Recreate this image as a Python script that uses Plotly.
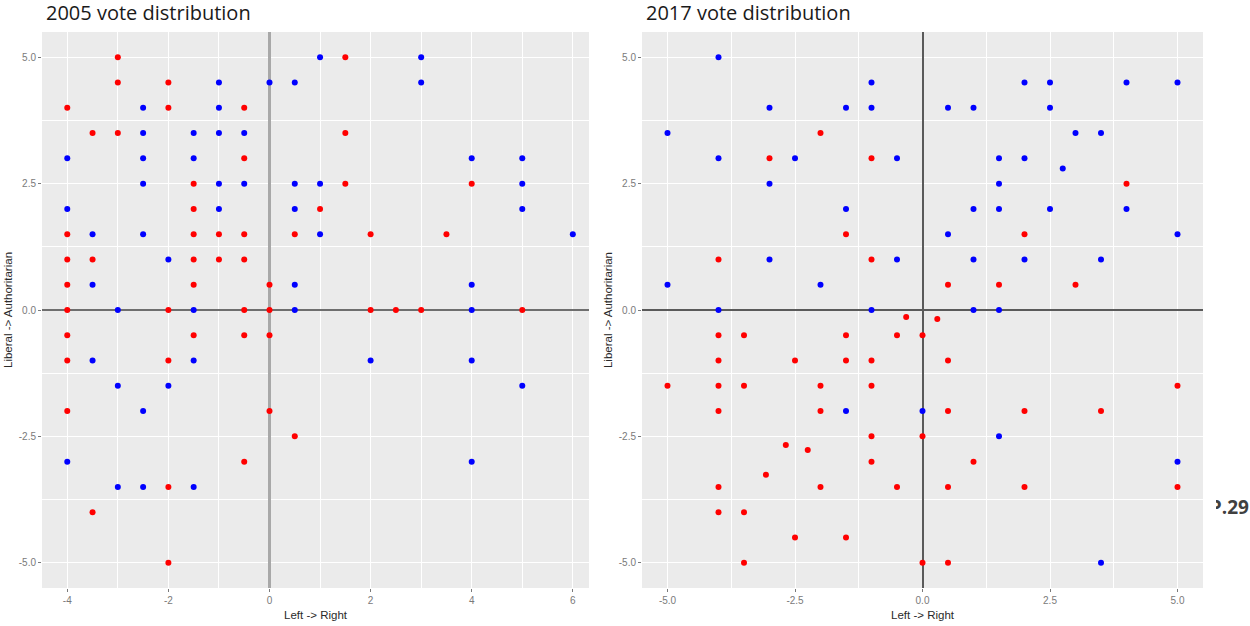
import plotly.graph_objects as go

# ---- 2005 positions (left/right, liberal/authoritarian) ----
red_2005_x = [-4, -3, -3, -2, -2, -0.5, -3.5, -3, -0.5, -1.5, -1.5, -4, -1.5, -1, -0.5, 0.5,
              -4, -3.5, -1.5, -1, -0.5, -4, -1.5, 0, 1, -4, -2, -0.5, 0, 1.5, 1.5, 1.5, 4, 2,
              3.5, 2, 2.5, 3, 5, -4, -1.5, -0.5, 0, -4, -2, -4, 0, 0.5, -0.5, -2, -3.5, -2]
red_2005_y = [4, 5, 4.5, 4.5, 4, 4, 3.5, 3.5, 3, 2.5, 2, 1.5, 1.5, 1.5, 1.5, 1.5,
              1, 1, 1, 1, 1, 0.5, 0.5, 0.5, 2, 0, 0, 0, 0, 5, 3.5, 2.5, 2.5, 1.5,
              1.5, 0, 0, 0, 0, -0.5, -0.5, -0.5, -0.5, -1, -1, -2, -2, -2.5, -3, -3.5, -4, -5]

blue_2005_x = [1, -1, 0, 0.5, -2.5, -1, -2.5, -1.5, -1, -0.5, -4, -2.5, -1.5, -2.5, -1, -0.5,
               0.5, 1, -4, -1, 0.5, -3.5, -2.5, 1, -2, -3.5, 0.5, -3, -1.5, 0.5, 3, 3, 4, 5,
               5, 5, 6, 4, 4, -3.5, -1.5, -3, -2, -2.5, -4, -3, -2.5, -1.5, 2, 4, 5, 4]
blue_2005_y = [5, 4.5, 4.5, 4.5, 4, 4, 3.5, 3.5, 3.5, 3.5, 3, 3, 3, 2.5, 2.5, 2.5,
               2.5, 2.5, 2, 2, 2, 1.5, 1.5, 1.5, 1, 0.5, 0.5, 0, 0, 0, 5, 4.5, 3, 3,
               2.5, 2, 1.5, 0.5, 0, -1, -1, -1.5, -1.5, -2, -3, -3.5, -3.5, -3.5, -1, -1, -1.5, -3]

# ---- 2017 positions ----
red_2017_x = [-4, -3, -2, -1.5, -1, -1, -0.32, 4, 2, 0.5, 1.5, 3, -4, -3.5, -1.5, -0.5, 0,
              -4, -2.5, -1.5, -1, -5, -4, -3.5, -2, -1, -4, -2, -1, 0, -2.68, -2.25, -3.07,
              -1, -4, -2, -0.5, -4, -3.5, -2.5, -1.5, -3.5, 0, 0.29, 0.5, 5, 0.5, 2, 3.5,
              1, 0.5, 2, 5, 0.5]
red_2017_y = [1, 3, 3.5, 1.5, 3, 1, -0.14, 2.5, 1.5, 0.5, 0.5, 0.5, -0.5, -0.5, -0.5, -0.5, -0.5,
              -1, -1, -1, -1, -1.5, -1.5, -1.5, -1.5, -1.5, -2, -2, -2.5, -2.5, -2.67, -2.77, -3.26,
              -3, -3.5, -3.5, -3.5, -4, -4, -4.5, -4.5, -5, -5, -0.18, -1, -1.5, -2, -2, -2,
              -3, -3.5, -3.5, -3.5, -5]

blue_2017_x = [-5, -5, -4, -4, -4, -3, -3, -3, -2.5, -2, -1.5, -1.5, -1, -1, -1, -0.5, -0.5,
               2, 2.5, 4, 5, 0.5, 1, 2.5, 3, 3.5, 1.5, 2, 2.75, 1.5, 1, 1.5, 2.5, 4, 0.5, 5,
               1, 2, 3.5, 1, 1.5, -1.5, 0, 1.5, 5, 3.5]
blue_2017_y = [3.5, 0.5, 5, 3, 0, 4, 2.5, 1, 3, 0.5, 4, 2, 4.5, 4, 0, 3, 1,
               4.5, 4.5, 4.5, 4.5, 4, 4, 4, 3.5, 3.5, 3, 3, 2.8, 2.5, 2, 2, 2, 2, 1.5, 1.5,
               1, 1, 1, 0, 0, -2, -2, -2.5, -3, -5]

panel_titles = ["2005 vote distribution", "2017 vote distribution"]
x_title = "Left -> Right"
y_title = "Liberal -> Authoritarian"

RED = "#FF0000"
BLUE = "#0000FF"
PANEL_BG = "#EBEBEB"
TICK_FONT = dict(family="Liberation Sans, Arial", size=10, color="#7A7A7A")
AXIS_TITLE_FONT = dict(family="Liberation Sans, Arial", size=11.5, color="#2A2A2A")

fig = go.Figure()

def add_points(xs, ys, color, xa, ya):
    fig.add_trace(go.Scatter(
        x=xs, y=ys, mode="markers", xaxis=xa, yaxis=ya,
        marker=dict(color=color, size=6, line=dict(width=0)),
        showlegend=False, hoverinfo="x+y",
    ))

add_points(red_2005_x, red_2005_y, RED, "x", "y")
add_points(blue_2005_x, blue_2005_y, BLUE, "x", "y")
add_points(red_2017_x, red_2017_y, RED, "x2", "y2")
add_points(blue_2017_x, blue_2017_y, BLUE, "x2", "y2")

W, H = 1250, 626

def px_x(p):
    return p / W

def px_y(p):
    return 1 - p / H

common_axis = dict(
    showgrid=True, gridcolor="white", gridwidth=1.2,
    ticks="outside", ticklen=3, tickwidth=1, tickcolor="#7A7A7A",
    tickfont=TICK_FONT, showline=False, automargin=False,
    zeroline=True,
)

y_domain = [px_y(588), px_y(32)]
minor_grid = dict(showgrid=True, gridcolor="white", gridwidth=0.6, ticks="")

fig.update_layout(
    width=W, height=H,
    margin=dict(l=0, r=0, t=0, b=0),
    paper_bgcolor="white",
    plot_bgcolor=PANEL_BG,
    showlegend=False,
    xaxis=dict(
        common_axis, domain=[px_x(42), px_x(589)], range=[-4.5, 6.32],
        tickmode="array", tickvals=[-4, -2, 0, 2, 4, 6], ticktext=["-4", "-2", "0", "2", "4", "6"],
        minor=dict(minor_grid, tickvals=[-3, -1, 1, 3, 5]),
        zerolinecolor="#A8A8A8", zerolinewidth=3,
        title=dict(text=x_title, font=AXIS_TITLE_FONT, standoff=5),
        anchor="y",
    ),
    yaxis=dict(
        common_axis, domain=y_domain, range=[-5.5, 5.5],
        tickmode="array", tickvals=[-5, -2.5, 0, 2.5, 5], ticktext=["-5.0", "-2.5", "0.0", "2.5", "5.0"],
        minor=dict(minor_grid, tickvals=[-3.75, -1.25, 1.25, 3.75]),
        zerolinecolor="#6E6E6E", zerolinewidth=2.2,
        title=dict(text=y_title, font=AXIS_TITLE_FONT, standoff=3),
        anchor="x",
    ),
    xaxis2=dict(
        common_axis, domain=[px_x(642), px_x(1203)], range=[-5.5, 5.5],
        tickmode="array", tickvals=[-5, -2.5, 0, 2.5, 5], ticktext=["-5.0", "-2.5", "0.0", "2.5", "5.0"],
        minor=dict(minor_grid, tickvals=[-3.75, -1.25, 1.25, 3.75]),
        zerolinecolor="#5A5A5A", zerolinewidth=2,
        title=dict(text=x_title, font=AXIS_TITLE_FONT, standoff=5),
        anchor="y2",
    ),
    yaxis2=dict(
        common_axis, domain=y_domain, range=[-5.5, 5.5],
        tickmode="array", tickvals=[-5, -2.5, 0, 2.5, 5], ticktext=["-5.0", "-2.5", "0.0", "2.5", "5.0"],
        minor=dict(minor_grid, tickvals=[-3.75, -1.25, 1.25, 3.75]),
        zerolinecolor="#5A5A5A", zerolinewidth=2,
        title=dict(text=y_title, font=AXIS_TITLE_FONT, standoff=3),
        anchor="x2",
    ),
)

title_font = dict(family="Open Sans, Noto Sans", size=20, color="#1A1A1A")
for text, left in zip(panel_titles, [44, 644]):
    fig.add_annotation(
        text=text, xref="paper", yref="paper", x=px_x(left), y=px_y(13),
        xanchor="left", yanchor="middle", showarrow=False, font=title_font,
    )

# page marker at the right edge, its first letter cut off by a narrow text box
fig.add_annotation(
    text="<b>P.29</b>", xref="paper", yref="paper", x=1.0, y=px_y(507),
    xanchor="right", yanchor="middle", showarrow=False, align="right", width=33,
    xshift=1,
    font=dict(family="Open Sans, Noto Sans", size=19, color="#404040"),
)

fig.write_html("out.html")
